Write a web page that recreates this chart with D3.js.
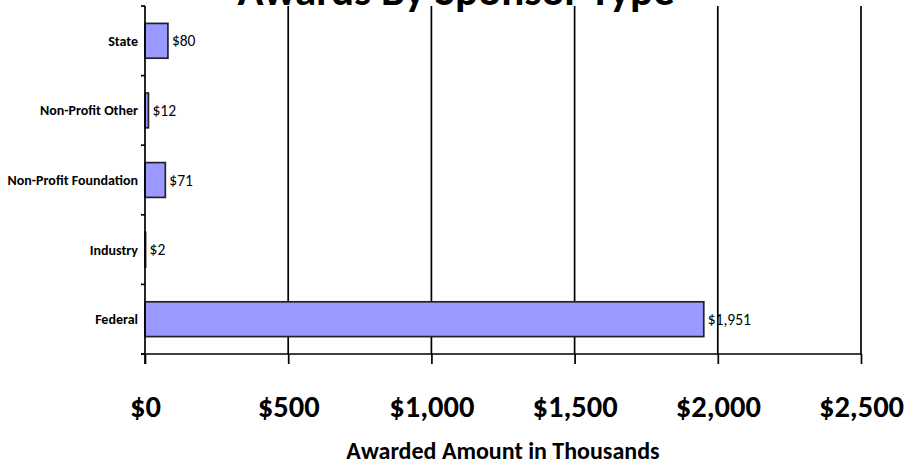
<!DOCTYPE html>
<html><head><meta charset="utf-8">
<script src="https://cdn.jsdelivr.net/npm/d3@7"></script>
<style>body{margin:0;background:#fff;} svg{display:block;font-family:Carlito,Calibri,Lato,sans-serif;}</style>
</head><body><svg id="c" width="909" height="462"></svg>
<script>
const categories = ["State", "Non-Profit Other", "Non-Profit Foundation", "Industry", "Federal"];
const values = [80, 12, 71, 2, 1951];
const valueLabels = ["$80", "$12", "$71", "$2", "$1,951"];
const xTicks = [0, 500, 1000, 1500, 2000, 2500];
const xTickLabels = ["$0", "$500", "$1,000", "$1,500", "$2,000", "$2,500"];
const title = "Awards By Sponsor Type";
const xTitle = "Awarded Amount in Thousands";

const svg = d3.select("#c");
const m = {left:145, right:861, top:6, bottom:354};
const x = d3.scaleLinear().domain([0, 2500]).range([m.left, m.right]);
const y = d3.scaleBand().domain(categories).range([m.top, m.bottom]).paddingInner(0.5).paddingOuter(0.25);
const band = d3.scaleBand().domain(categories).range([m.top, m.bottom]);
const sw = 1.7;

// title
svg.append("text").attr("x", 456).attr("y", 5).attr("text-anchor","middle")
  .attr("font-size", 43).attr("font-weight","bold").text(title);

// gridlines
svg.append("g").selectAll("line").data(xTicks.slice(1)).join("line")
  .attr("x1", d=>x(d)).attr("x2", d=>x(d)).attr("y1", m.top).attr("y2", m.bottom)
  .attr("stroke","#000").attr("stroke-width",sw);

// bars
svg.append("g").selectAll("rect").data(categories).join("rect")
  .attr("x", x(0)).attr("y", d=>y(d))
  .attr("width", (d,i)=>x(values[i])-x(0)).attr("height", y.bandwidth())
  .attr("fill","#9999FF").attr("stroke","#222").attr("stroke-width",sw);

// value labels
svg.append("g").selectAll("text").data(categories).join("text")
  .attr("x", (d,i)=>x(values[i])+4).attr("y", d=>y(d)+y.bandwidth()/2)
  .attr("dy","0.36em").attr("font-size",15.5).text((d,i)=>valueLabels[i]);

// x axis
const xa = svg.append("g").attr("transform",`translate(0,${m.bottom})`)
  .call(d3.axisBottom(x).tickValues(xTicks).tickFormat((d,i)=>xTickLabels[i]).tickSize(10).tickSizeOuter(0));
xa.select(".domain").attr("d", `M${m.left-4},0H${m.right}`).attr("stroke-width",sw);
xa.selectAll(".tick line").attr("stroke-width",sw);
xa.selectAll(".tick text").attr("y",63).attr("dy",0).attr("font-size",30.5).attr("font-weight","bold").attr("fill","#000")
  .attr("font-family","Carlito,Calibri,Lato,sans-serif");

// y axis
const ya = svg.append("g").attr("transform",`translate(${m.left},0)`);
ya.append("line").attr("x1",0).attr("x2",0).attr("y1",m.top).attr("y2",m.bottom+10).attr("stroke","#000").attr("stroke-width",sw);
const bounds = categories.map(c=>band(c)).concat([m.bottom]);
ya.selectAll("line.t").data(bounds).join("line").attr("class","t")
  .attr("x1",-4).attr("x2",0).attr("y1",d=>d).attr("y2",d=>d).attr("stroke","#000").attr("stroke-width",sw);
ya.selectAll("text").data(categories).join("text")
  .attr("x",-7).attr("y",d=>band(d)+band.bandwidth()/2).attr("dy","0.36em")
  .attr("text-anchor","end").attr("font-size",14).attr("font-weight","bold").text(d=>d);

// x title
svg.append("text").attr("x",(m.left+m.right)/2).attr("y",459).attr("text-anchor","middle")
  .attr("font-size",24).attr("font-weight","bold").text(xTitle);
</script></body></html>
